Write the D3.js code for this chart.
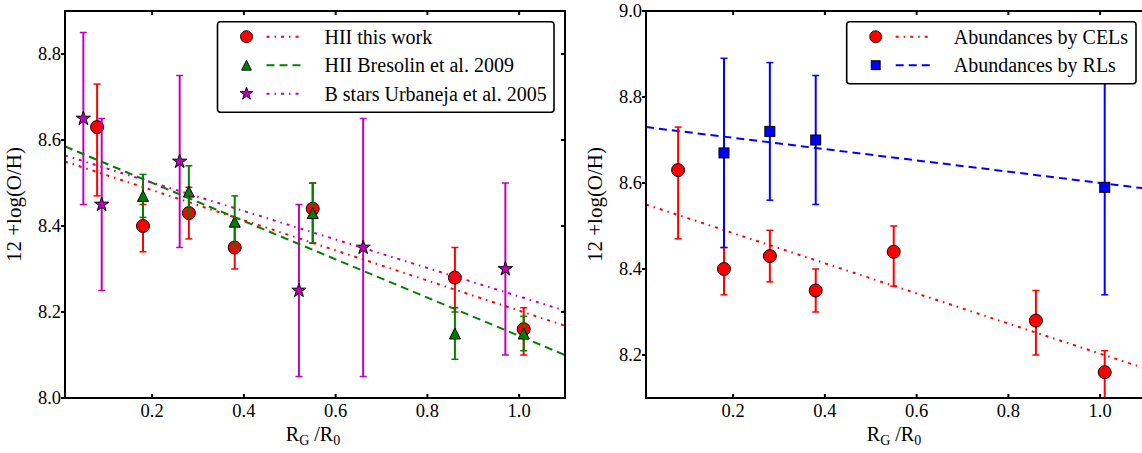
<!DOCTYPE html>
<html>
<head>
<meta charset="utf-8">
<script src="https://cdn.jsdelivr.net/npm/d3@7"></script>
<style>
  html, body { margin: 0; padding: 0; background: #fff; }
  svg { display: block; }
  text { font-family: "Liberation Serif", "Times New Roman", serif; fill: #000; }
</style>
</head>
<body>
<svg id="chart" width="1142" height="453"></svg>
<script>
// ---- Data: galactocentric radius (R_G/R_0) and oxygen abundance 12+log(O/H) ----

// HII regions, this work (CEL abundances)
const radiusCEL  = [0.08, 0.18, 0.28, 0.38, 0.55, 0.86, 1.01];
const ohCEL      = [8.63, 8.40, 8.43, 8.35, 8.44, 8.28, 8.16];
const ohCELUp    = [0.10, 0.05, 0.06, 0.05, 0.06, 0.07, 0.05];
const ohCELDown  = [0.16, 0.06, 0.06, 0.05, 0.08, 0.08, 0.06];

// HII regions, Bresolin et al. 2009
const radiusBres = [0.18, 0.28, 0.38, 0.55, 0.86, 1.01];
const ohBres     = [8.47, 8.48, 8.41, 8.43, 8.15, 8.15];
const ohBresErr  = [0.05, 0.06, 0.06, 0.07, 0.06, 0.04];

// B supergiants, Urbaneja et al. 2005
const radiusUrb  = [0.05, 0.09, 0.26, 0.52, 0.66, 0.97];
const ohUrb      = [8.65, 8.45, 8.55, 8.25, 8.35, 8.30];
const ohUrbErr   = [0.20, 0.20, 0.20, 0.20, 0.30, 0.20];

// Recombination-line abundances
const radiusRL   = [0.18, 0.28, 0.38, 1.01];
const ohRL       = [8.67, 8.72, 8.70, 8.59];
const ohRLErr    = [0.22, 0.16, 0.15, 0.25];

// Linear gradient fits, evaluated at the ends of the radius range
const fitRadius  = [0.01, 1.10];
const fitCEL     = [8.550, 8.168];
const fitBres    = [8.585, 8.100];
const fitUrb     = [8.564, 8.203];
const fitRL      = [8.730, 8.587];

// Axis ticks
const xTicks      = [0.2, 0.4, 0.6, 0.8, 1.0];
const yTicksLeft  = [8.0, 8.2, 8.4, 8.6, 8.8];
const yTicksRight = [8.2, 8.4, 8.6, 8.8, 9.0];

// Legend entries
const legendLeft  = ["HII this work", "HII Bresolin et al. 2009", "B stars Urbaneja et al. 2005"];
const legendRight = ["Abundances by CELs", "Abundances by RLs"];

// ---- Styles ----
const RED = "#ff0000", GREEN = "#008000", MAGENTA = "#bf00bf", BLUE = "#0000ff";
const DASHDOT = "3,5,1.5,5";
const DASHED = "8,5";

const svg = d3.select("#chart");
svg.append("rect").attr("width", 1142).attr("height", 453).attr("fill", "#fff");

const plotTop = 11, plotBottom = 398, panelW = 500;

function makePanel(id, left, yDomain, yTicks) {
  const x = d3.scaleLinear().domain([0.01, 1.10]).range([left, left + panelW]);
  const y = d3.scaleLinear().domain(yDomain).range([plotBottom, plotTop]);
  const g = svg.append("g");
  g.append("clipPath").attr("id", id)
    .append("rect").attr("x", left).attr("y", plotTop)
    .attr("width", panelW).attr("height", plotBottom - plotTop);
  const plot = g.append("g").attr("clip-path", `url(#${id})`);
  return { x, y, g, plot, left, yTicks };
}

function drawFrame(p) {
  const { x, y, g, left, yTicks } = p;
  const right = left + panelW;
  const frame = g.append("g");
  frame.append("rect").attr("x", left).attr("y", plotTop)
    .attr("width", panelW).attr("height", plotBottom - plotTop)
    .attr("fill", "none").attr("stroke", "#000").attr("stroke-width", 2);

  // x ticks: inward on bottom and top
  xTicks.forEach(t => {
    const xv = x(t);
    frame.append("line").attr("x1", xv).attr("x2", xv).attr("y1", plotBottom).attr("y2", plotBottom - 4)
      .attr("stroke", "#000").attr("stroke-width", 2);
    frame.append("line").attr("x1", xv).attr("x2", xv).attr("y1", plotTop).attr("y2", plotTop + 4)
      .attr("stroke", "#000").attr("stroke-width", 2);
    frame.append("text").attr("x", xv).attr("y", plotBottom + 19)
      .attr("text-anchor", "middle").attr("font-size", "18.5px")
      .text(d3.format(".1f")(t));
  });

  // y ticks: outward on the left, inward on the right
  yTicks.forEach(t => {
    const yv = y(t);
    frame.append("line").attr("x1", left - 4).attr("x2", left).attr("y1", yv).attr("y2", yv)
      .attr("stroke", "#000").attr("stroke-width", 2);
    frame.append("line").attr("x1", right - 4).attr("x2", right).attr("y1", yv).attr("y2", yv)
      .attr("stroke", "#000").attr("stroke-width", 2);
    frame.append("text").attr("x", left - 4).attr("y", yv + 6.3)
      .attr("text-anchor", "end").attr("font-size", "18.5px")
      .text(d3.format(".1f")(t));
  });

  // axis titles
  const xl = frame.append("text").attr("x", left + panelW / 2 - 2).attr("y", 441)
    .attr("text-anchor", "middle").attr("font-size", "20px");
  xl.append("tspan").text("R");
  xl.append("tspan").attr("font-size", "14px").attr("dy", 4).text("G");
  xl.append("tspan").attr("dy", -4).text(" /R");
  xl.append("tspan").attr("font-size", "14px").attr("dy", 4).text("0");

  frame.append("text")
    .attr("transform", `translate(${left - 44},${(plotTop + plotBottom) / 2}) rotate(-90)`)
    .attr("text-anchor", "middle").attr("font-size", "21px")
    .text("12 +log(O/H)");
}

// ---- Markers ----
function starPath(r) {
  const ri = r * 0.382, pts = [];
  for (let i = 0; i < 10; i++) {
    const a = -Math.PI / 2 + i * Math.PI / 5;
    const rr = i % 2 === 0 ? r : ri;
    pts.push([rr * Math.cos(a), rr * Math.sin(a)]);
  }
  return "M" + pts.map(p => p.join(",")).join("L") + "Z";
}
function marker(sel, shape, color) {
  let m;
  if (shape === "circle") m = sel.append("circle").attr("r", 6.5);
  else if (shape === "square") m = sel.append("rect").attr("x", -5).attr("y", -5).attr("width", 10).attr("height", 10);
  else if (shape === "triangle") m = sel.append("path").attr("d", "M0,-5.5L5.5,5.5L-5.5,5.5Z");
  else m = sel.append("path").attr("d", starPath(7.5));
  m.attr("fill", color).attr("stroke", "#000").attr("stroke-width", 1);
  return m;
}

function errorSeries(p, xs, ys, up, down, color, shape) {
  const { x, y, plot } = p;
  const g = plot.append("g");
  xs.forEach((xv, i) => {
    const cx = x(xv), y1 = y(ys[i] + up[i]), y0 = y(ys[i] - down[i]);
    g.append("line").attr("x1", cx).attr("x2", cx).attr("y1", y1).attr("y2", y0)
      .attr("stroke", color).attr("stroke-width", 2);
    [y1, y0].forEach(yc => g.append("line")
      .attr("x1", cx - 3.5).attr("x2", cx + 3.5).attr("y1", yc).attr("y2", yc)
      .attr("stroke", color).attr("stroke-width", 1.5));
  });
  xs.forEach((xv, i) => {
    marker(g.append("g").attr("transform", `translate(${x(xv)},${y(ys[i])})`), shape, color);
  });
}

function fitLine(p, ys, color, dash) {
  const { x, y, plot } = p;
  plot.append("line")
    .attr("x1", x(fitRadius[0])).attr("y1", y(ys[0]))
    .attr("x2", x(fitRadius[1])).attr("y2", y(ys[1]))
    .attr("stroke", color).attr("stroke-width", 2).attr("stroke-dasharray", dash);
}

function legend(p, x0, y0, w, labels, styles) {
  const g = p.g.append("g");
  const rowH = 28.5;
  const h = labels.length * rowH + 5;
  g.append("rect").attr("x", x0).attr("y", y0).attr("width", w).attr("height", h)
    .attr("rx", 3).attr("fill", "#fff").attr("stroke", "#000").attr("stroke-width", 1.6);
  labels.forEach((lab, i) => {
    const cy = y0 + 15 + i * rowH;
    const s = styles[i];
    marker(g.append("g").attr("transform", `translate(${x0 + 29},${cy})`), s.shape, s.color)
      .attr("transform", s.shape === "circle" ? "scale(0.92)" : "scale(0.9)");
    g.append("line").attr("x1", x0 + 49).attr("x2", x0 + 85).attr("y1", cy).attr("y2", cy)
      .attr("stroke", s.color).attr("stroke-width", 2).attr("stroke-dasharray", s.dash);
    g.append("text").attr("x", x0 + 107).attr("y", cy + 6.8)
      .attr("font-size", "20px").text(lab);
  });
}

// ---- Left panel: comparison with literature gradients ----
const pL = makePanel("clipL", 65, [8.0, 8.9], yTicksLeft);
errorSeries(pL, radiusCEL, ohCEL, ohCELUp, ohCELDown, RED, "circle");
errorSeries(pL, radiusBres, ohBres, ohBresErr, ohBresErr, GREEN, "triangle");
errorSeries(pL, radiusUrb, ohUrb, ohUrbErr, ohUrbErr, MAGENTA, "star");
fitLine(pL, fitCEL, RED, DASHDOT);
fitLine(pL, fitBres, GREEN, DASHED);
fitLine(pL, fitUrb, MAGENTA, DASHDOT);
drawFrame(pL);
legend(pL, 217.5, 21.7, 336.5, legendLeft, [
  { shape: "circle", color: RED, dash: DASHDOT },
  { shape: "triangle", color: GREEN, dash: DASHED },
  { shape: "star", color: MAGENTA, dash: DASHDOT }
]);

// ---- Right panel: CEL versus RL abundances ----
const pR = makePanel("clipR", 646, [8.1, 9.0], yTicksRight);
fitLine(pR, fitCEL, RED, DASHDOT);
fitLine(pR, fitRL, BLUE, DASHED);
errorSeries(pR, radiusCEL, ohCEL, ohCELUp, ohCELDown, RED, "circle");
errorSeries(pR, radiusRL, ohRL, ohRLErr, ohRLErr, BLUE, "square");
drawFrame(pR);
legend(pR, 846.7, 21.7, 289.3, legendRight, [
  { shape: "circle", color: RED, dash: DASHDOT },
  { shape: "square", color: BLUE, dash: DASHED }
]);
</script>
</body>
</html>
